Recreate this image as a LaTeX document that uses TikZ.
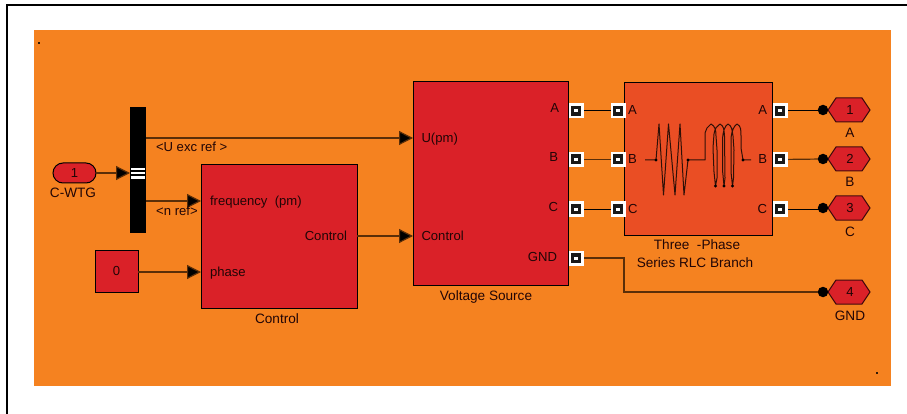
\documentclass[tikz,border=0pt]{standalone}
\usepackage{fontspec}
\setmainfont{Liberation Sans}
\usetikzlibrary{arrows.meta}
\definecolor{bgorange}{HTML}{F58220}
\definecolor{blockred}{HTML}{DA2128}
\definecolor{rlcred}{HTML}{EA4E24}
\definecolor{wirebrown}{HTML}{5A2E08}
\tikzset{
  x=1pt,y=-1pt,
  blk/.style={rectangle,draw=black,line width=1pt,fill=blockred,anchor=north west,inner sep=0,outer sep=0},
  lab/.style={inner sep=0,outer sep=0,text height=9pt,text depth=0pt,font=\fontsize{13.1}{15}\selectfont,text=black!85!blockred},
  captxt/.style={lab,font=\fontsize{13.6}{15}\selectfont},
  port/.style={rectangle,fill=white,minimum size=15pt,inner sep=0,outer sep=0,
    path picture={
      \fill[black!90] (path picture bounding box.center) +(-5,-5) rectangle +(5,5);
      \fill[white] (path picture bounding box.center) +(-2,-1.5) rectangle +(2,1.5);}},
  wire/.style={draw=black,line width=1pt},
  bwire/.style={draw=wirebrown,line width=1.2pt},
  arr/.style={bwire,-{Triangle[length=14pt,width=14pt,fill=black]}},
  hexo/.style={draw=black!70!blockred,fill=blockred,line width=1pt,line join=miter},
  dot/.style={circle,fill=black,minimum size=10.5pt,inner sep=0,outer sep=0},
  sym/.style={draw=black!80!rlcred,line width=1pt,line join=round},
  sdot/.style={circle,fill=black,minimum size=3.4pt,inner sep=0},
}
\begin{document}
\begin{tikzpicture}
\useasboundingbox (0,0) rectangle (907,414);
\fill[white] (0,0) rectangle (907,414);
\draw[black,line width=2pt] (7,414) -- (7,5) -- (907,5);
\fill[bgorange] (34,30) rectangle (891,386);
\fill[black!80!bgorange] (38,42.2) rectangle (40,44);
\fill[black!80!bgorange] (876,372.2) rectangle (878,374);

% blocks
\node[blk,minimum width=155pt,minimum height=203pt] (vs) at (413,82) {};
\node[blk,minimum width=156pt,minimum height=143pt] (ctrl) at (201,165) {};
\node[blk,minimum width=148pt,minimum height=152pt,fill=rlcred] (rlc) at (624,83) {};
\node[blk,minimum width=43pt,minimum height=42pt] (zero) at (95,250) {};
\node[lab] at (zero.center) {0};
\node[rectangle,fill=black,minimum width=16pt,minimum height=126pt,inner sep=0,outer sep=0,anchor=north west] (mux) at (130,107) {};
\fill[white] (131,168) rectangle (145,170.4);
\fill[white] (131,172) rectangle (145,174.4);
\fill[white] (131,176) rectangle (145,179);
\node[rectangle,rounded corners=10pt,draw=black,line width=1pt,fill=blockred,minimum width=43pt,minimum height=20pt,inner sep=0,outer sep=0] (inp) at (74.5,173) {};
\node[lab] at (inp.center) {1};
\node[captxt] (inpl) at (73,193) {C-WTG};

% block inner anchors
\coordinate (inU) at (413,138);
\coordinate (inC) at (413,236);
\coordinate (inF) at (201,201);
\coordinate (inP) at (201,272);
\coordinate (muxA) at (146,138);
\coordinate (muxB) at (146,201);
\coordinate (muxIn) at (130,173);
\coordinate (outC) at (357,236);

% ports
\foreach \n/\y in {a/111,b/159.5,c/209,g/258}{\node[port] (vs\n) at (576,\y) {};}
\foreach \n/\y in {a/111,b/159.5,c/209}{\node[port] (rl\n) at (618,\y) {};}
\foreach \n/\y in {a/111,b/159.5,c/209}{\node[port] (rr\n) at (780,\y) {};}

% outports
\foreach \n/\y/\t/\l in {1/110/1/A,2/159/2/B,3/208/3/C,4/292/4/GND}{
  \draw[hexo] (828,\y) -- (836,\y-12) -- (862,\y-12) -- (870,\y) -- (862,\y+12) -- (836,\y+12) -- cycle;
  \node[lab] at (850,\y) {\t};
  \node[captxt] at (850,\y+23.5) {\l};
  \node[dot] (dot\n) at (823,\y) {};
}

% connectors
\draw[arr] (inp.east) -- (muxIn);
\draw[arr] (muxA) -- (inU);
\draw[arr] (muxB) -- (inF);
\draw[arr] (zero.east |- inP) -- (inP);
\draw[arr] (outC) -- (inC);
\draw[wire] (vsa) -- (rla);
\draw[bwire] (vsb) -- (rlb);
\draw[wire] (vsc) -- (rlc);
\draw[wire] (rra) -- (dot1 |- rra);
\draw[bwire] (rrb) -- (dot2);
\draw[wire] (rrc) -- (dot3 |- rrc);
\draw[bwire] (vsg) -- (624,258) -- (624,292) -- (dot4);
% redraw ports over wire ends
\foreach \n/\y in {a/111,b/159.5,c/209,g/258}{\node[port] at (576,\y) {};}
\foreach \n/\y in {a/111,b/159.5,c/209}{\node[port] at (618,\y) {};\node[port] at (780,\y) {};}

% labels
\node[lab,anchor=west] at (156,147) {<U exc ref >};
\node[lab] at (177,211) {<n ref>};
\node[lab,anchor=west] at (210,201) {frequency\ \ (pm)};
\node[lab,anchor=west] at (210,272) {phase};
\node[lab,anchor=east] at (347,236) {Control};
\node[captxt] at (277,319) {Control};
\node[lab,anchor=west] at (421.5,138) {U(pm)};
\node[lab,anchor=west] at (421.5,236) {Control};
\node[captxt] at (486,296) {Voltage Source};
\node[lab,anchor=east] at (559,108) {A};
\node[lab,anchor=east] at (558,157) {B};
\node[lab,anchor=east] at (558,207) {C};
\node[lab,anchor=east] at (557,257) {GND};
\node[lab,anchor=west] at (628,110) {A};
\node[lab,anchor=west] at (628,159.5) {B};
\node[lab,anchor=west] at (628,209) {C};
\node[lab,anchor=east] at (767,110) {A};
\node[lab,anchor=east] at (767,159) {B};
\node[lab,anchor=east] at (767,209) {C};
\node[captxt] at (697,245) {Three\ \ -Phase};
\node[captxt] at (695,263) {Series RLC Branch};

% RLC symbol
\draw[sym] (645,160) -- (656,160) -- (659,124) -- (663.5,195) -- (668.5,124) -- (675,195) -- (680,124) -- (684,195) -- (688,160) -- (705,160) -- (705,133) -- (707,128) -- (711,124)
  .. controls (715,126) and (716,130) .. (716,136) -- (717,150) -- (717,178) -- (715.5,186)
  -- (714,172) -- (713,148) -- (714,134) .. controls (715,128) and (717,126) .. (720,124)
  .. controls (724,126) and (724,130) .. (724.5,136) -- (725,178) -- (724,186)
  -- (722.5,170) -- (722.5,140) .. controls (723,130) and (725,126) .. (728,124)
  .. controls (732,126) and (732,130) .. (733,136) -- (734,150) -- (733.5,178) -- (732.5,186)
  -- (731,172) -- (731,138) .. controls (732,130) and (734,126) .. (737,124)
  .. controls (741,126) and (741,130) .. (741,136) -- (741,148) -- (743,160) -- (751,160);
\foreach \p in {(656,160),(688,160),(715.5,186),(724,186),(732.5,186),(743,160)}{\node[sdot] at \p {};}
\end{tikzpicture}
\end{document}
